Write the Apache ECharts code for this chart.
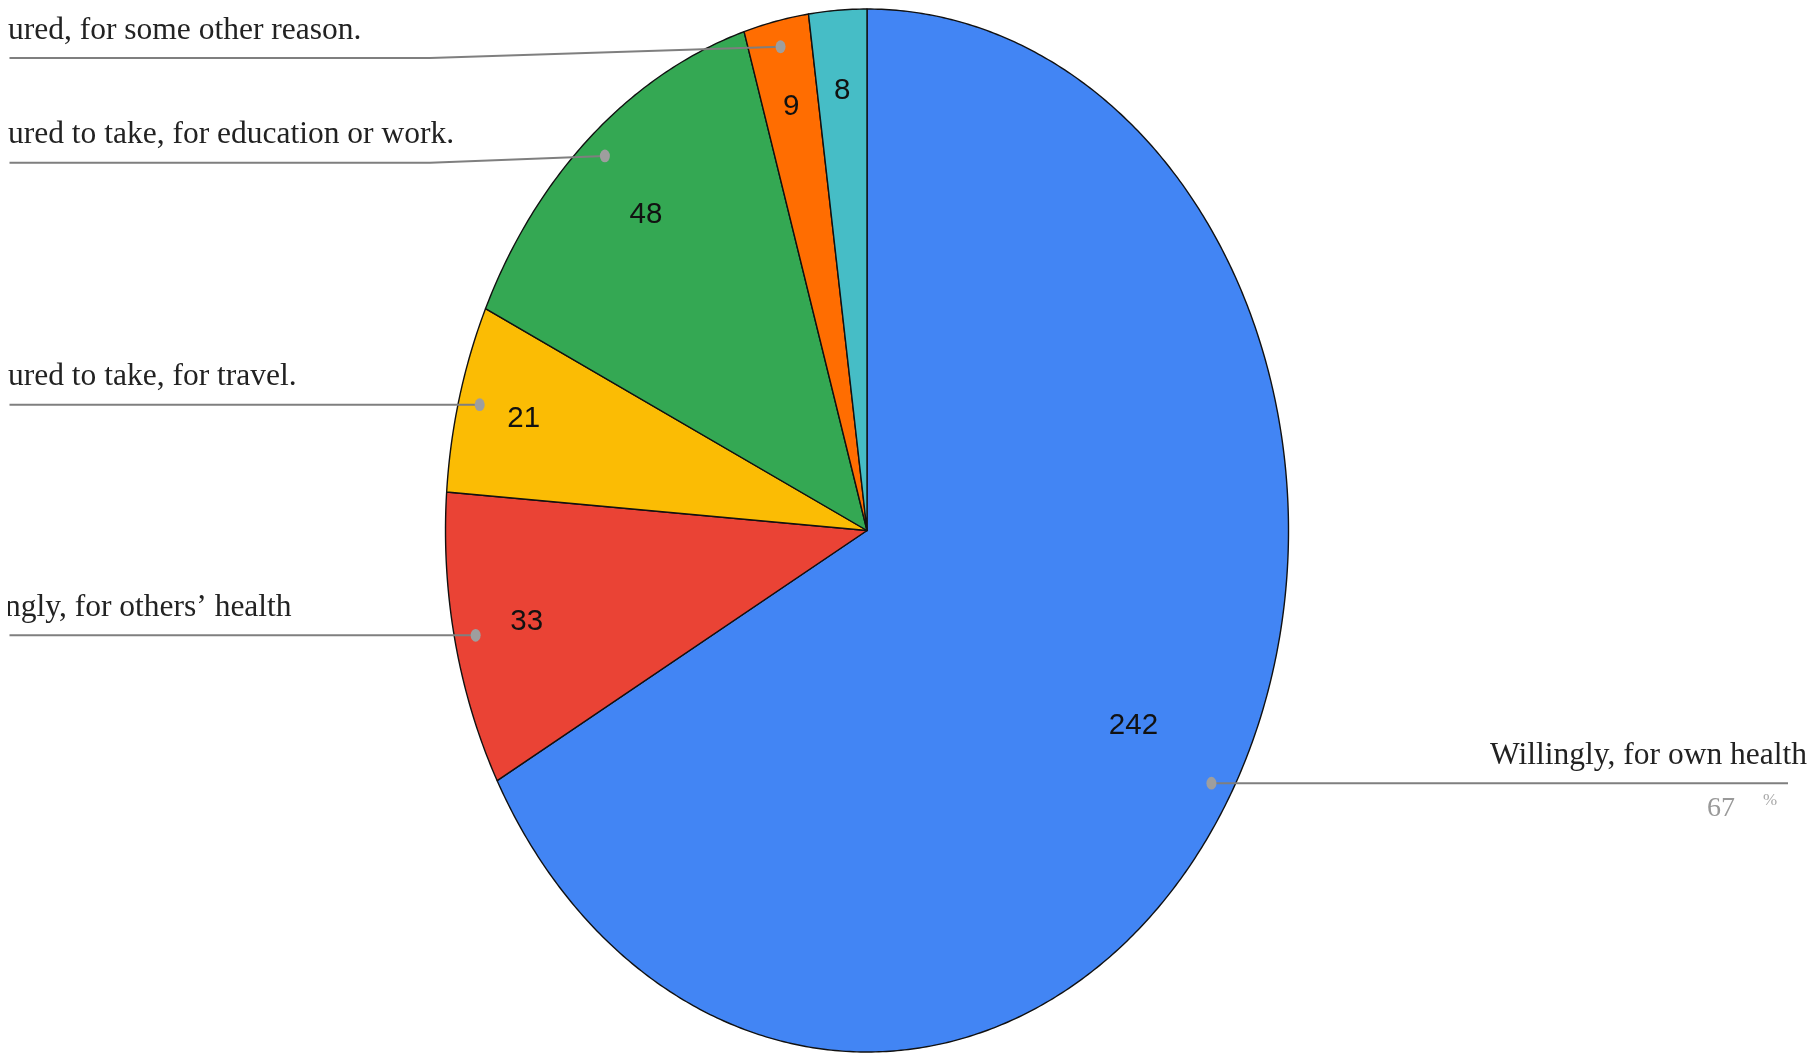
<!DOCTYPE html>
<html>
<head>
<meta charset="utf-8">
<script src="https://cdn.jsdelivr.net/npm/echarts@6/dist/echarts.min.js"></script>
<style>
  html, body { margin: 0; padding: 0; background: #fff; width: 1817px; height: 1055px; overflow: hidden; }
  #chart { position: absolute; left: 8px; top: 0; width: 1809px; height: 1055px; }
</style>
</head>
<body>
<div id="chart"></div>
<script>
// ---- data ----
const categories = [
  'Willingly, for own health',
  'Willingly, for others\u2019 health',
  'Pressured to take, for travel.',
  'Pressured to take, for education or work.',
  'Pressured, for some other reason.',
  'Other'
];
const values = [242, 33, 21, 48, 9, 8];
const colors = ['#4285F4', '#EA4335', '#FBBC04', '#34A853', '#FF6D01', '#46BDC6'];
const showCallout = [true, true, true, true, true, false];

// ---- layout / style constants (pixels inside the chart div) ----
const CX = 859, CY = 530.5, RX = 421.5, RY = 521.5;
const DOT_R = 0.95;
const VALUE_R = [0.735, 0.826, 0.842, 0.801, 0.832, 0.846];
const NUDGE = [0, 0, 0, 6.7, 11.3, 0];
const ELBOW_X = 422;
const LEFT_LINE_END = 1.5;
const LEFT_TEXT_X = -66.5;
const RIGHT_LINE_END = 1780;
const RIGHT_TEXT_X = 1799;
const NAME_FONT = '31.5px "Liberation Serif", "Times New Roman", serif';
const VALUE_FONT = '29.5px "Liberation Sans", Arial, sans-serif';

const total = values.reduce((a, b) => a + b, 0);
const cumStart = [];
(function () { let acc = 0; values.forEach(v => { cumStart.push(acc); acc += v; }); })();
const seriesData = values.map((v, i) => ({ name: categories[i], value: [0, 0, v] }));

function angleOf(frac) { return frac * 2 * Math.PI; }

const chart = echarts.init(document.getElementById('chart'), null, { renderer: 'canvas' });

const option = {
  animation: false,
  backgroundColor: '#fff',
  grid: { left: CX - RX, top: CY - RY, width: 2 * RX, height: 2 * RY, containLabel: false },
  xAxis: { type: 'value', min: -1, max: 1, show: false },
  yAxis: { type: 'value', min: -1, max: 1, show: false },
  tooltip: { show: false },
  series: [
    {
      name: 'slices',
      type: 'custom',
      silent: true,
      encode: { x: 0, y: 1 },
      data: seriesData,
      renderItem: function (params, api) {
        const i = params.dataIndex;
        const v = api.value(2);
        const a0 = angleOf(cumStart[i] / total);
        const a1 = angleOf((cumStart[i] + v) / total);
        const n = Math.max(2, Math.ceil((a1 - a0) / (Math.PI / 360)));
        const pts = [api.coord([0, 0])];
        for (let k = 0; k <= n; k++) {
          const a = a0 + (a1 - a0) * k / n;
          pts.push(api.coord([Math.sin(a), Math.cos(a)]));
        }
        return {
          type: 'polygon',
          shape: { points: pts },
          style: { fill: colors[i], stroke: '#111', lineWidth: 1.4, lineJoin: 'round' }
        };
      }
    },
    {
      name: 'values',
      type: 'custom',
      silent: true,
      encode: { x: 0, y: 1 },
      data: seriesData,
      renderItem: function (params, api) {
        const i = params.dataIndex;
        const v = api.value(2);
        const mid = angleOf((cumStart[i] + v / 2) / total);
        const p = api.coord([VALUE_R[i] * Math.sin(mid), VALUE_R[i] * Math.cos(mid)]);
        return {
          type: 'text',
          x: p[0], y: p[1],
          style: { text: String(v), font: VALUE_FONT, fill: '#111', align: 'center', verticalAlign: 'middle' }
        };
      }
    },
    {
      name: 'callouts',
      type: 'custom',
      silent: true,
      encode: { x: 0, y: 1 },
      data: seriesData,
      renderItem: function (params, api) {
        const i = params.dataIndex;
        if (!showCallout[i]) return null;
        const v = api.value(2);
        const mid = angleOf((cumStart[i] + v / 2) / total);
        const dot = api.coord([DOT_R * Math.sin(mid), DOT_R * Math.cos(mid)]);
        const isRight = dot[0] > CX;
        const ly = dot[1] + NUDGE[i];
        const children = [];
        const linePts = isRight
          ? [dot, [RIGHT_LINE_END, ly]]
          : [dot, [ELBOW_X, ly], [LEFT_LINE_END, ly]];
        children.push({
          type: 'polyline',
          shape: { points: linePts },
          style: { stroke: '#7f7f7f', lineWidth: 2, fill: null }
        });
        children.push({
          type: 'circle',
          x: dot[0], y: dot[1], scaleY: 1.28,
          shape: { cx: 0, cy: 0, r: 5 },
          style: { fill: '#9e9e9e' }
        });
        children.push({
          type: 'text',
          x: isRight ? RIGHT_TEXT_X : LEFT_TEXT_X,
          y: ly - 27.5,
          style: {
            text: categories[i], font: NAME_FONT, fill: '#222',
            align: isRight ? 'right' : 'left', verticalAlign: 'middle'
          }
        });
        if (isRight) {
          children.push({
            type: 'text',
            x: RIGHT_TEXT_X - 72, y: ly + 25,
            style: {
              text: String(Math.round(v / total * 100)),
              font: '28px "Liberation Serif", "Times New Roman", serif',
              fill: '#999', align: 'right', verticalAlign: 'middle'
            }
          });
          children.push({
            type: 'text',
            x: RIGHT_TEXT_X - 44, y: ly + 17,
            style: {
              text: '%',
              font: '17px "Liberation Serif", "Times New Roman", serif',
              fill: '#a8a8a8', align: 'left', verticalAlign: 'middle'
            }
          });
        }
        return { type: 'group', children: children };
      }
    }
  ]
};

chart.setOption(option);
</script>
</body>
</html>
